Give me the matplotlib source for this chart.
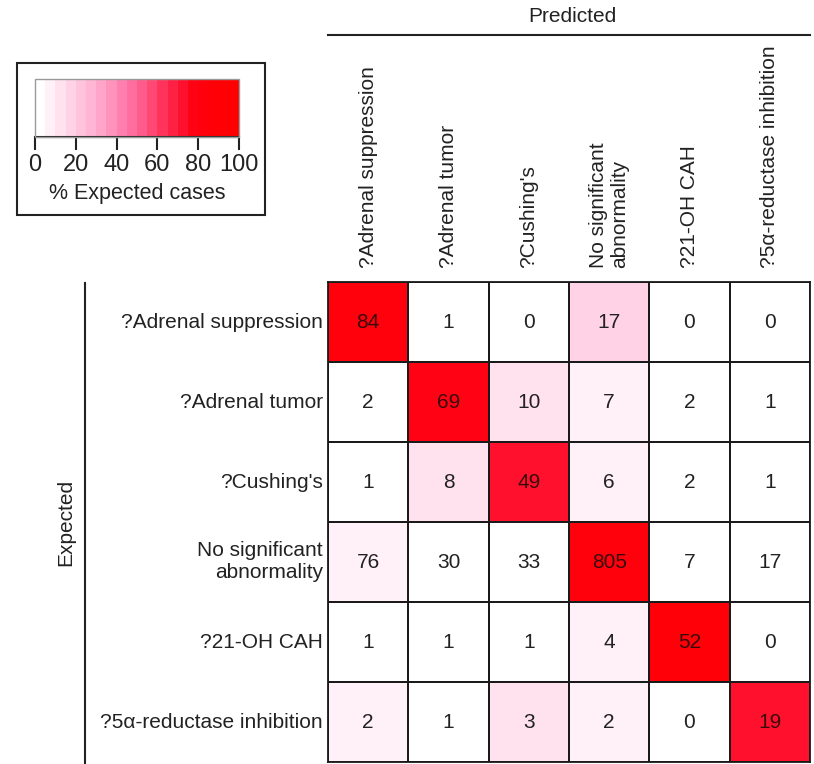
import matplotlib
matplotlib.use("Agg")
import matplotlib.pyplot as plt
import numpy as np
from matplotlib.colors import LinearSegmentedColormap, BoundaryNorm
from matplotlib.lines import Line2D
from matplotlib.patches import Rectangle

plt.rcParams['font.family'] = ['Liberation Sans', 'DejaVu Sans']

# データ
expected_labels = ["?Adrenal suppression", "?Adrenal tumor", "?Cushing's",
                   "No significant\nabnormality", "?21-OH CAH", "?5α-reductase inhibition"]
predicted_labels = ["?Adrenal suppression", "?Adrenal tumor", "?Cushing's",
                    "No significant\nabnormality", "?21-OH CAH", "?5α-reductase inhibition"]
counts = np.array([
    [84, 1, 0, 17, 0, 0],
    [2, 69, 10, 7, 2, 1],
    [1, 8, 49, 6, 2, 1],
    [76, 30, 33, 805, 7, 17],
    [1, 1, 1, 4, 52, 0],
    [2, 1, 3, 2, 0, 19],
])

# 期待値ごとの割合 (%)
pct = counts / counts.sum(axis=1, keepdims=True) * 100

W, H = 814, 764
fig = plt.figure(figsize=(W / 100, H / 100), dpi=100)


def px(x0, y0, x1, y1):
    # ピクセル座標 -> figure座標
    return [x0 / W, 1 - y1 / H, (x1 - x0) / W, (y1 - y0) / H]


# カラーマップ（20段階）
cmap = LinearSegmentedColormap.from_list(
    "wpr", [(0, "#ffffff"), (0.3, "#ffaacd"), (0.5, "#ff6496"),
            (0.7, "#ff1a3c"), (0.8, "#ff0010"), (1.0, "#ff0000")])
bounds = np.linspace(0, 100, 21)
norm = BoundaryNorm(bounds, cmap.N)

txt = "#222222"
lw = 1.3

# ヒートマップ
ax = fig.add_axes(px(328, 282, 810, 762))
n = len(expected_labels)
ax.pcolormesh(np.arange(n + 1), np.arange(n + 1), pct, cmap=cmap, norm=norm,
              edgecolors="#1a1a1a", linewidth=lw)
ax.set_xlim(0, n)
ax.set_ylim(n, 0)
for i in range(n):
    for j in range(n):
        c = "#3a0a0a" if pct[i, j] > 50 else txt
        ax.text(j + 0.5, i + 0.5, str(counts[i, j]), ha="center", va="center",
                fontsize=15, color=c)
ax.set_xticks([])
ax.set_yticks([])
for s in ax.spines.values():
    s.set_linewidth(lw)
    s.set_color("#1a1a1a")

# 列ラベル（Predicted）
for j, lab in enumerate(predicted_labels):
    fig.text((328 + 80.3 * (j + 0.5)) / W, 1 - 268 / H, lab, rotation=90,
             ha="center", va="bottom", fontsize=15, color=txt,
             multialignment="left")
fig.text(572 / W, 1 - 17 / H, "Predicted", ha="center", va="center",
         fontsize=15, color=txt)
fig.add_artist(Line2D([328 / W, 810 / W], [1 - 35 / H, 1 - 35 / H],
                      color=txt, linewidth=1.5))

# 行ラベル（Expected）
for i, lab in enumerate(expected_labels):
    fig.text(323 / W, 1 - (282 + 80 * (i + 0.5)) / H, lab, ha="right",
             va="center", fontsize=15, color=txt, multialignment="right")
fig.text(66 / W, 1 - 522 / H, "Expected", rotation=90, ha="center",
         va="center", fontsize=15, color=txt)
fig.add_artist(Line2D([85 / W, 85 / W], [1 - 283 / H, 0],
                      color=txt, linewidth=1.5))

# カラーバーの枠
fig.add_artist(Rectangle((17 / W, 1 - 215 / H), 248 / W, 152 / H,
                         transform=fig.transFigure, fill=False,
                         edgecolor=txt, linewidth=1.5))
cax = fig.add_axes(px(35, 79, 239, 137))
sm = plt.cm.ScalarMappable(cmap=cmap, norm=norm)
cb = fig.colorbar(sm, cax=cax, orientation="horizontal",
                  ticks=[0, 20, 40, 60, 80, 100])
cb.minorticks_off()
cb.outline.set_edgecolor("#9a9a9a")
cb.outline.set_linewidth(1.0)
cax.axhline(0, color=txt, linewidth=1.5, clip_on=False)
cax.tick_params(axis="x", which="both", length=9, width=1.5, labelsize=17,
                pad=3, colors=txt)
cb.set_label("% Expected cases", fontsize=15.5, labelpad=5, color=txt)

fig.savefig("out.png", dpi=100)
